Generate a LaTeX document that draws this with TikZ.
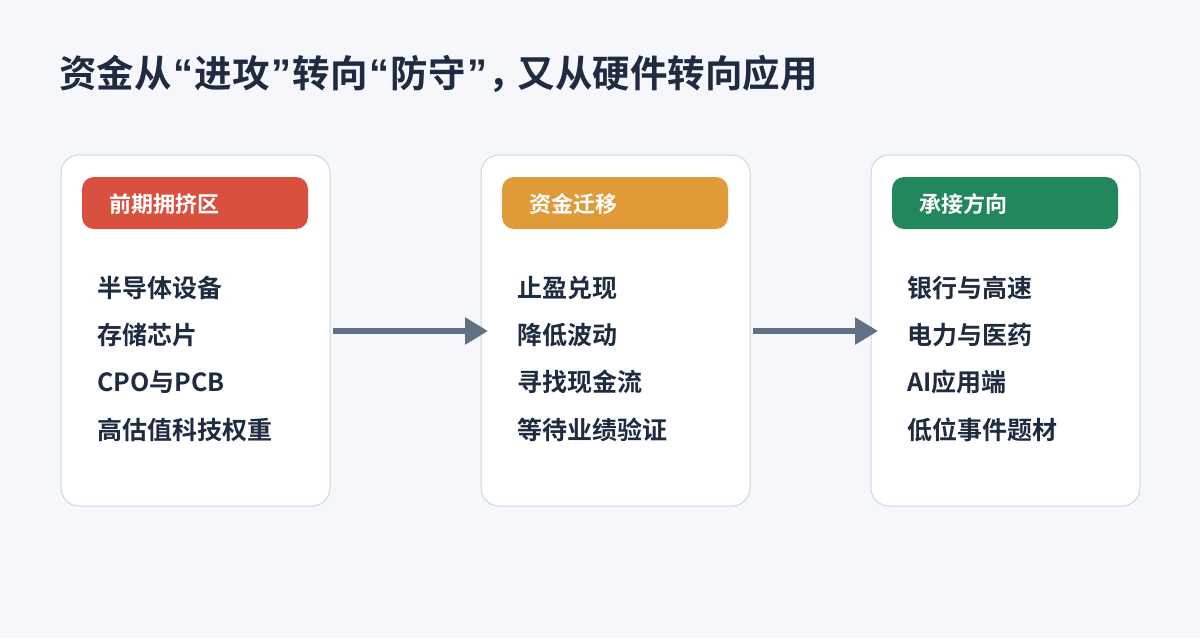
\documentclass[tikz,border=0pt]{standalone}
\usepackage{fontspec}
\setmainfont{Noto Sans CJK SC}[BoldFont={* Bold}]
\newfontfamily\cjkb{Noto Sans CJK SC Bold}
\newfontfamily\latq{Liberation Sans}
\usetikzlibrary{arrows.meta}
\definecolor{bg}{HTML}{F5F7FB}
\definecolor{cardline}{HTML}{CDD6E3}
\definecolor{hred}{HTML}{D9503F}
\definecolor{horange}{HTML}{E09A38}
\definecolor{hgreen}{HTML}{23875E}
\definecolor{ink}{HTML}{1E2B40}
\definecolor{arrowc}{HTML}{627084}
\newcommand\myopenq{\makebox[23pt][c]{\latq\bfseries\fontsize{40pt}{40pt}\selectfont “}}
\newcommand\mycloseq{\makebox[23pt][c]{\latq\bfseries\fontsize{40pt}{40pt}\selectfont ”}}
\newcommand\mycomma{\makebox[29pt][l]{，}}
\tikzset{
  card/.style={draw=cardline, line width=1pt, fill=white, rounded corners=18pt},
  pill/.style={rounded corners=12pt},
  htext/.style={anchor=west, inner sep=0pt, text=white, font=\cjkb\fontsize{22pt}{22pt}\selectfont},
  item/.style={anchor=west, inner sep=0pt, text=ink, font=\cjkb\fontsize{25pt}{25pt}\selectfont},
  flow/.style={draw=arrowc, line width=5.5pt, -{Triangle[length=23pt, width=26pt]}},
}
\begin{document}
\begin{tikzpicture}[x=1pt, y=-1pt]
\fill[bg] (0,0) rectangle (1200,638);
\useasboundingbox (0,0) rectangle (1200,638);
\node[anchor=west, inner sep=0pt, text=ink, font=\cjkb\fontsize{37.5pt}{37.5pt}\selectfont] (title) at (59,73.5) {资金从\myopenq 进攻\mycloseq 转向\myopenq 防守\mycloseq\mycomma 又从硬件转向应用};

% card 1
\draw[card] (61,155) rectangle (330,506);
\fill[hred, pill] (82,177) rectangle (308,229);
\node[htext] (h1) at (109,204.5) {前期拥挤区};
\node[item] (a1) at (97,288) {半导体设备};
\node[item] (a2) at (97,335) {存储芯片};
\node[item] (a3) at (97,382) {CPO与PCB};
\node[item] (a4) at (97,430) {高估值科技权重};

% card 2
\draw[card] (481,155) rectangle (750,506);
\fill[horange, pill] (502,177) rectangle (728,229);
\node[htext] (h2) at (529,204.5) {资金迁移};
\node[item] (b1) at (517,288) {止盈兑现};
\node[item] (b2) at (517,335) {降低波动};
\node[item] (b3) at (517,382) {寻找现金流};
\node[item] (b4) at (517,430) {等待业绩验证};

% card 3
\draw[card] (871,155) rectangle (1140,506);
\fill[hgreen, pill] (892,177) rectangle (1118,229);
\node[htext] (h3) at (919,204.5) {承接方向};
\node[item] (c1) at (907,288) {银行与高速};
\node[item] (c2) at (907,335) {电力与医药};
\node[item] (c3) at (907,382) {AI应用端};
\node[item] (c4) at (907,430) {低位事件题材};

\coordinate (s1) at (333,331);
\coordinate (e1) at (488,331);
\coordinate (s2) at (753,331);
\coordinate (e2) at (878,331);
\draw[flow] (s1) -- (e1);
\draw[flow] (s2) -- (e2);
\end{tikzpicture}
\end{document}
